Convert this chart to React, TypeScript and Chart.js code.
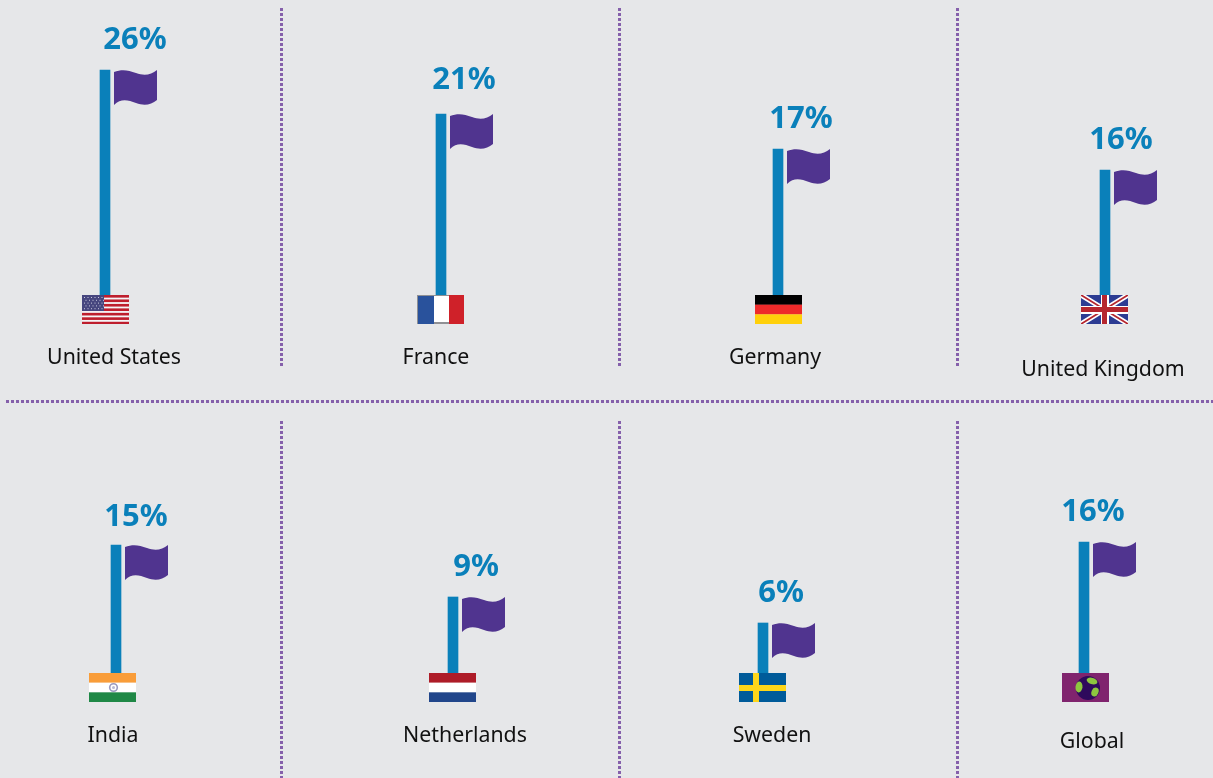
import React, { useEffect, useRef } from "react";
import { Chart, registerables } from "chart.js";

Chart.register(...registerables);

const countries = ["United States", "France", "Germany", "United Kingdom", "India", "Netherlands", "Sweden", "Global"];
const percentages = [26, 21, 17, 16, 15, 9, 6, 16];
const flagCodes = ["us", "fr", "de", "uk", "in", "nl", "se", "gl"];

// Placement of each panel on the page (barX = bar centre, barPx = drawn bar height).
const panelLayout = [
  { barX: 105, base: 295, barPx: 225, flagX: 82, valueX: 135, valueY: 40, labelX: 114, labelY: 358 },
  { barX: 441, base: 295, barPx: 181, flagX: 417, valueX: 464, valueY: 80, labelX: 436, labelY: 358 },
  { barX: 778, base: 295, barPx: 146, flagX: 755, valueX: 801, valueY: 119, labelX: 775, labelY: 358 },
  { barX: 1105, base: 295, barPx: 125, flagX: 1081, valueX: 1121, valueY: 140, labelX: 1103, labelY: 370 },
  { barX: 116, base: 673, barPx: 128, flagX: 89, valueX: 136, valueY: 517, labelX: 113, labelY: 736 },
  { barX: 453, base: 673, barPx: 76, flagX: 429, valueX: 476, valueY: 567, labelX: 465, labelY: 736 },
  { barX: 763, base: 673, barPx: 50, flagX: 739, valueX: 781, valueY: 593, labelX: 772, labelY: 736 },
  { barX: 1084, base: 673, barPx: 131, flagX: 1062, valueX: 1093, valueY: 512, labelX: 1092, labelY: 742 },
];

const PANEL_W = 300;
const BLUE = "#0a80ba";
const PURPLE = "#50348f";
const DOT = "#8560ab";
const BG = "#e6e7e9";
const FONT = '"Noto Sans", sans-serif';
const FW = 47;
const FH = 29;

function hStripes(c: CanvasRenderingContext2D, x: number, y: number, cols: string[]) {
  const h = FH / cols.length;
  cols.forEach((col, i) => {
    c.fillStyle = col;
    c.fillRect(x, y + i * h, FW, h + 0.2);
  });
}

function drawCountryFlag(c: CanvasRenderingContext2D, code: string, x: number, y: number) {
  c.save();
  c.beginPath();
  c.rect(x, y, FW, FH);
  c.clip();
  if (code === "us") {
    c.fillStyle = "#f4f4f6";
    c.fillRect(x, y, FW, FH);
    c.fillStyle = "#be1e2d";
    for (let i = 0; i < 7; i++) c.fillRect(x, y + (i * 2 * FH) / 13, FW, FH / 13 + 0.4);
    c.fillStyle = "#46467f";
    c.fillRect(x, y, 22, 16);
    c.fillStyle = "#c8c8dc";
    for (let r = 0; r < 5; r++) for (let k = 0; k < 6; k++) c.fillRect(x + 2 + k * 3.5 + (r % 2) * 1.5, y + 2 + r * 2.8, 1, 1);
  } else if (code === "fr") {
    c.fillStyle = "#29529c";
    c.fillRect(x, y, 17, FH);
    c.fillStyle = "#ffffff";
    c.fillRect(x + 17, y, 15, FH);
    c.fillStyle = "#cf2129";
    c.fillRect(x + 32, y, 16, FH);
    c.fillStyle = "#8f9094";
    c.fillRect(x, y, FW - 15, 1);
    c.fillRect(x + 17, y + FH - 2, 15, 2);
    c.fillRect(x, y, 1, FH);
  } else if (code === "de") {
    hStripes(c, x, y, ["#000000", "#ee2a2a", "#ffd00a"]);
  } else if (code === "nl") {
    hStripes(c, x, y, ["#ae1c28", "#ffffff", "#21468b"]);
  } else if (code === "in") {
    hStripes(c, x, y, ["#f99d39", "#ffffff", "#1f8846"]);
    c.strokeStyle = "#9a9ac0";
    c.lineWidth = 1.6;
    c.beginPath();
    c.arc(x + FW / 2 + 1, y + FH / 2, 3.8, 0, Math.PI * 2);
    c.stroke();
    c.fillStyle = "#b9b9d4";
    c.beginPath();
    c.arc(x + FW / 2 + 1, y + FH / 2, 1.5, 0, Math.PI * 2);
    c.fill();
  } else if (code === "se") {
    c.fillStyle = "#005b9a";
    c.fillRect(x, y, FW, FH);
    c.fillStyle = "#fdd61a";
    c.fillRect(x + 14, y, 6, FH);
    c.fillRect(x, y + 12, FW, 6);
  } else if (code === "uk") {
    c.fillStyle = "#2c3c93";
    c.fillRect(x, y, FW, FH);
    c.strokeStyle = "#ffffff";
    c.lineWidth = 5;
    c.beginPath();
    c.moveTo(x, y);
    c.lineTo(x + FW, y + FH);
    c.moveTo(x + FW, y);
    c.lineTo(x, y + FH);
    c.stroke();
    c.strokeStyle = "#b5262e";
    c.lineWidth = 1.8;
    c.stroke();
    c.fillStyle = "#ffffff";
    c.fillRect(x + 20, y, 8, FH);
    c.fillRect(x, y + 11, FW, 8);
    c.fillStyle = "#b5262e";
    c.fillRect(x + 21, y, 5, FH);
    c.fillRect(x, y + 12, FW, 5);
  } else {
    c.fillStyle = "#80246e";
    c.fillRect(x, y, FW, FH);
    const cx = x + 26;
    const cy = y + 15;
    c.fillStyle = "#2e0a5c";
    c.beginPath();
    c.arc(cx, cy, 12, 0, Math.PI * 2);
    c.fill();
    c.fillStyle = "#8dc63f";
    c.beginPath();
    c.ellipse(cx - 9, cy - 1, 3.5, 5.5, 0.1, 0, Math.PI * 2);
    c.fill();
    c.beginPath();
    c.ellipse(cx + 4, cy - 7, 5.5, 3.2, 0.3, 0, Math.PI * 2);
    c.fill();
    c.beginPath();
    c.ellipse(cx + 7, cy + 4, 3.5, 4.5, 0.4, 0, Math.PI * 2);
    c.fill();
  }
  c.restore();
}

function drawPennant(c: CanvasRenderingContext2D, x: number, y: number) {
  c.fillStyle = PURPLE;
  c.beginPath();
  c.moveTo(x, y + 2);
  c.bezierCurveTo(x + 8, y - 1, x + 14, y, x + 22, y + 3);
  c.bezierCurveTo(x + 30, y + 6, x + 37, y + 5, x + 43, y);
  c.lineTo(x + 43, y + 30);
  c.bezierCurveTo(x + 37, y + 35, x + 30, y + 36, x + 22, y + 33);
  c.bezierCurveTo(x + 14, y + 30, x + 7, y + 28, x, y + 35);
  c.closePath();
  c.fill();
}

function Panel({ index }: { index: number }) {
  const ref = useRef<HTMLCanvasElement>(null);
  const p = panelLayout[index];
  const rowTop = p.base < 400 ? 0 : 402;
  const rowH = p.base < 400 ? 398 : 376;
  const left = p.barX - PANEL_W / 2;

  useEffect(() => {
    if (!ref.current) return;
    const plotH = p.base - rowTop;
    const decor = {
      id: "decor",
      afterDatasetsDraw(chart: any) {
        const c = chart.ctx as CanvasRenderingContext2D;
        const bar = chart.getDatasetMeta(0).data[0];
        drawPennant(c, bar.x + 9, bar.y);
        drawCountryFlag(c, flagCodes[index], p.flagX - left, p.base - rowTop);
        c.textAlign = "center";
        c.textBaseline = "middle";
        c.fillStyle = BLUE;
        c.font = `bold 31px ${FONT}`;
        c.fillText(`${percentages[index]}%`, p.valueX - left, p.valueY - rowTop);
        c.fillStyle = "#111111";
        c.font = `21.3px ${FONT}`;
        c.fillText(countries[index], p.labelX - left, p.labelY - rowTop);
      },
    };
    const chart = new Chart(ref.current, {
      type: "bar",
      data: {
        labels: [countries[index]],
        datasets: [{ data: [percentages[index]], backgroundColor: BLUE, barThickness: 10, borderWidth: 0 }],
      },
      options: {
        responsive: false,
        animation: false,
        layout: { padding: { top: 0, left: 0, right: 0, bottom: rowH - plotH } },
        plugins: { legend: { display: false }, tooltip: { enabled: false }, title: { display: false } },
        scales: {
          x: { display: false },
          y: { display: false, min: 0, max: (percentages[index] * plotH) / p.barPx },
        },
      },
      plugins: [decor],
    } as any);
    return () => chart.destroy();
  }, []);

  return (
    <canvas
      ref={ref}
      width={PANEL_W}
      height={rowH}
      style={{ position: "absolute", left, top: rowTop, width: PANEL_W, height: rowH }}
    />
  );
}

const vDots = `repeating-linear-gradient(to bottom, ${DOT} 0 3px, transparent 3px 5px)`;
const hDots = `repeating-linear-gradient(to right, ${DOT} 0 3px, transparent 3px 5px)`;
const vLines = [280, 618, 956];

export default function App() {
  return (
    <div style={{ position: "fixed", inset: 0, overflow: "hidden", background: BG }}>
      {vLines.map((x) => (
        <React.Fragment key={x}>
          <div style={{ position: "absolute", left: x, top: 8, width: 3, height: 358, background: vDots }} />
          <div style={{ position: "absolute", left: x, top: 421, width: 3, height: 357, background: vDots }} />
        </React.Fragment>
      ))}
      <div style={{ position: "absolute", left: 6, top: 400, width: 1207, height: 3, background: hDots }} />
      {countries.map((_, i) => (
        <Panel key={i} index={i} />
      ))}
    </div>
  );
}
